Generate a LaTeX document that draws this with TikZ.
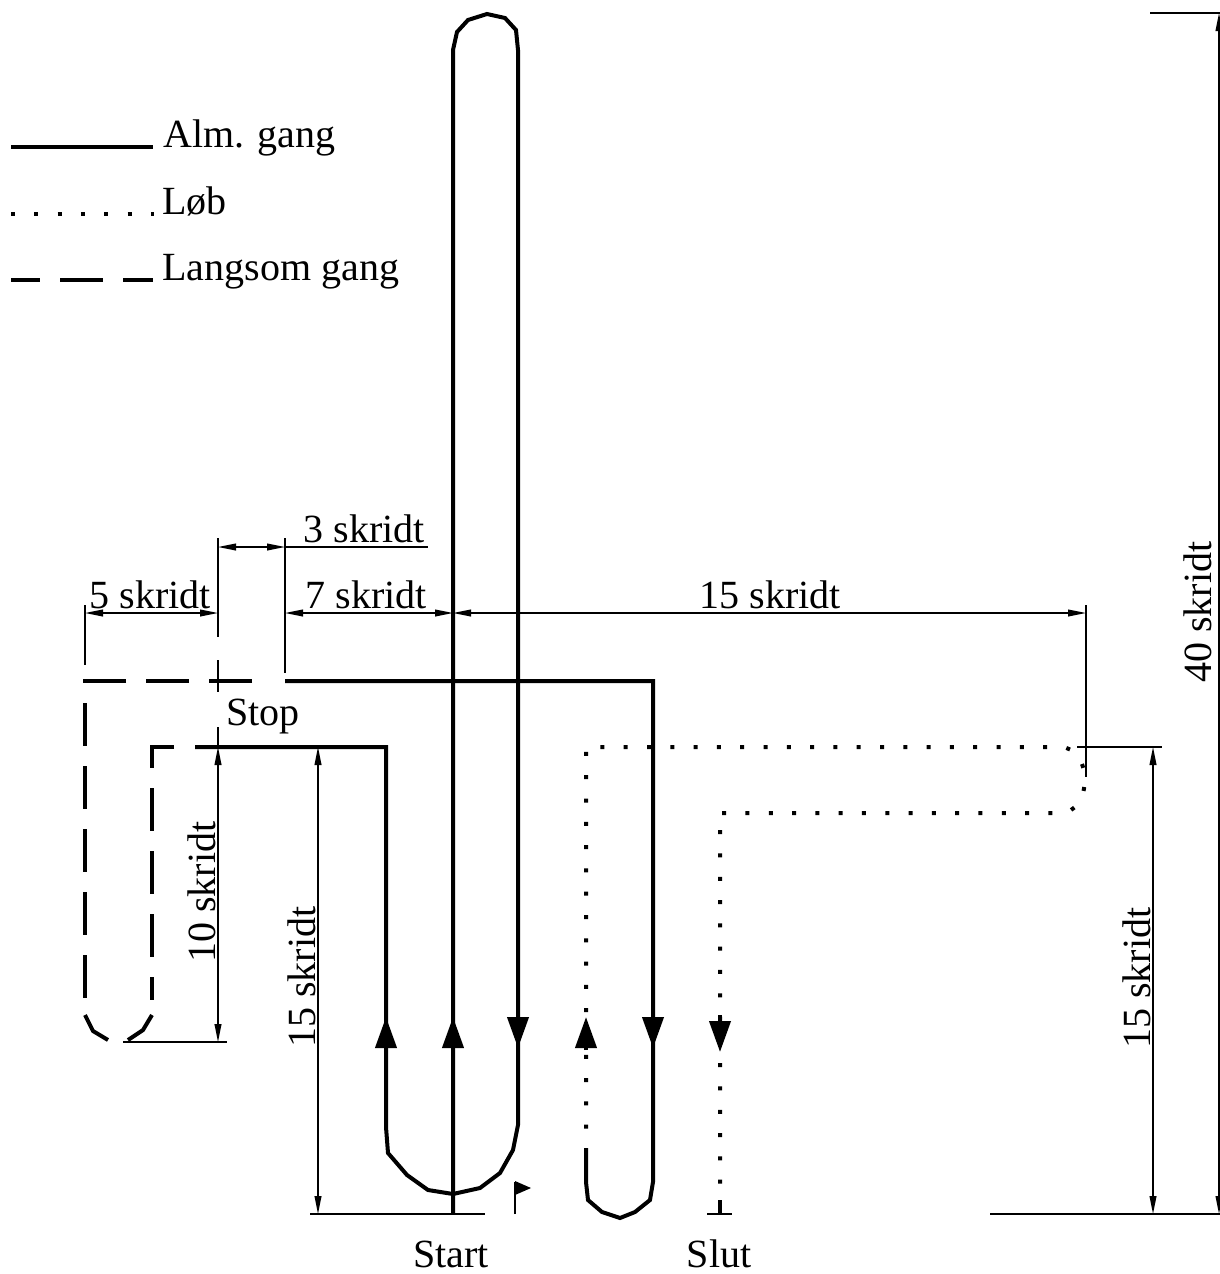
\documentclass[tikz,border=0pt]{standalone}
\usepackage{fontspec}
\setmainfont{Liberation Serif}
\usetikzlibrary{arrows.meta}

\tikzset{
  gang/.style={line width=2pt},
  loeb/.style={line width=2pt, dash pattern=on 2pt off 9.65pt},
  langsom/.style={line width=2pt, dash pattern=on 21.5pt off 10pt},
  maal/.style={line width=0.7pt},
  maalpil/.style={maal, {Triangle[length=9pt,width=3.4pt]}-{Triangle[length=9pt,width=3.4pt]}},
  retning/.style={line width=2pt, -{Triangle[length=15.5pt,width=10.5pt]}},
  tekst/.style={font=\fontsize{20}{24}\selectfont, inner sep=0pt},
}

\begin{document}
\begin{tikzpicture}[x=0.5pt, y=-0.5pt]
  \useasboundingbox (0,0) rectangle (1220,1274);
  % forklaring
  \draw[gang] (11,147) -- (153,147);
  \draw[loeb] (11,214) -- (154,214);
  \draw[langsom, dash phase=7pt] (11,280) -- (153,280);
  \node[tekst, anchor=base west] (alm) at (163,147) {Alm. gang};
  \node[tekst, anchor=base west] (loeb) at (162,214) {Løb};
  \node[tekst, anchor=base west] (langsom) at (162,280) {Langsom gang};
  % alm. gang
  \draw[gang] (453,1214) -- (453,50) -- (457,32) -- (468,20) -- (487,14) -- (505,18)
    -- (516,30) -- (518,50) -- (518,1125) -- (513,1150) -- (500,1173) -- (480,1188)
    -- (453,1194) -- (428,1190) -- (407,1175) -- (388,1153) -- (386,1127)
    -- (386,747) -- (195,747);
  \draw[gang] (285,681) -- (653,681) -- (653,1182) -- (650,1200) -- (635,1212)
    -- (620,1218) -- (602,1212) -- (588,1200) -- (586,1182) -- (586,1148);
  % langsom gang
  \draw[langsom] (174,747) -- (152,747) -- (152,1000);
  \draw[gang] (152,1015) -- (143,1030) -- (128,1040);
  \draw[gang] (108,1040) -- (93,1031) -- (85,1015);
  \draw[langsom] (252,681) -- (85,681) -- (85,1000);
  % loeb
  \draw[loeb, dash phase=2pt] (586,1148) -- (586,747) -- (1060,747)
    .. controls (1093,747) and (1093,813) .. (1060,813) -- (720,813) -- (720,1200);
  \draw[gang] (720,1200) -- (720,1214);
  \draw[maal] (707,1214) -- (732,1214);
  % retningspile
  \foreach \x in {386,453,586} \draw[retning] (\x,1050) -- (\x,1017);
  \foreach \x in {518,653} \draw[retning] (\x,1015) -- (\x,1048);
  \draw[retning] (720,1015) -- (720,1052);
  % flag
  \draw[maal] (515,1214) -- (515,1182);
  \fill (515,1181) -- (531,1188) -- (515,1195) -- cycle;
  % maal vandret
  \draw[maal] (85,605) -- (85,665);
  \draw[maal] (218,538) -- (218,637);
  \draw[maal] (218,660) -- (218,692);
  \draw[maal] (285,538) -- (285,673);
  \draw[maal] (1086,605) -- (1086,777);
  \draw[maalpil] (85,613) -- (218,613);
  \draw[maalpil] (218,547) -- (285,547);
  \draw[maal] (285,547) -- (428,547);
  \draw[maalpil] (285,613) -- (453,613);
  \draw[maalpil] (453,613) -- (1086,613);
  \node[tekst, anchor=base] (fem) at (150,608) {5 skridt};
  \node[tekst, anchor=base] (tre) at (364,542) {3 skridt};
  \node[tekst, anchor=base] (syv) at (366,608) {7 skridt};
  \node[tekst, anchor=base] (femten) at (770,608) {15 skridt};
  % maal lodret
  \draw[maal] (218,727) -- (218,747);
  \draw[maalpil] (218,747) -- (218,1042);
  \draw[maal] (123,1042) -- (227,1042);
  \draw[maalpil] (318,747) -- (318,1214);
  \draw[maal] (310,1214) -- (485,1214);
  \draw[maal] (1077,747) -- (1162,747);
  \draw[maalpil] (1153,747) -- (1153,1214);
  \draw[maal] (990,1214) -- (1220,1214);
  \draw[maal] (1150,13) -- (1220,13);
  \draw[maalpil] (1219,13) -- (1219,1214);
  \node[tekst, anchor=base, rotate=90] (ti) at (215,892) {10 skridt};
  \node[tekst, anchor=base, rotate=90] (femtenV) at (315,977) {15 skridt};
  \node[tekst, anchor=base, rotate=90] (femtenH) at (1150,978) {15 skridt};
  \node[tekst, anchor=base, rotate=90] (fyrre) at (1211,612) {40 skridt};
  % tekster
  \node[tekst, anchor=base] (stop) at (263,725) {Stop};
  \node[tekst, anchor=base] (start) at (451,1267) {Start};
  \node[tekst, anchor=base] (slut) at (719,1267) {Slut};
\end{tikzpicture}
\end{document}
